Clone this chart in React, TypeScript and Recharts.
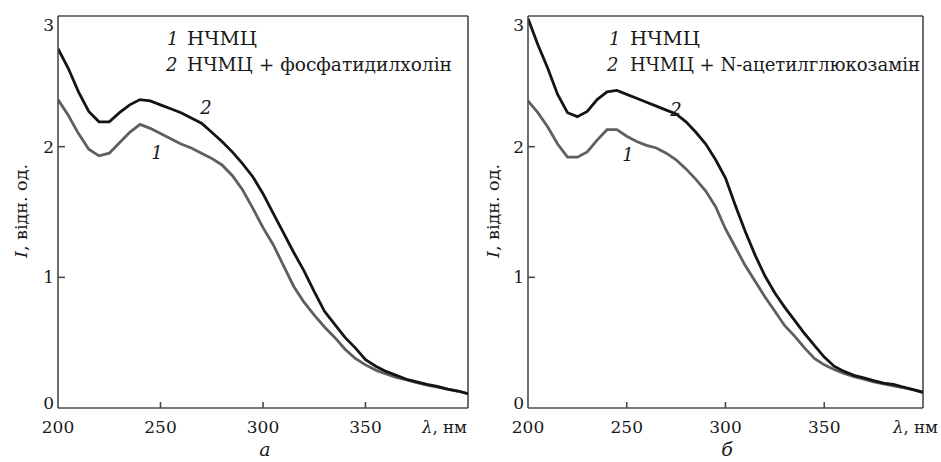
import React from 'react';
import { LineChart, Line, XAxis, YAxis, ReferenceLine } from 'recharts';

// wavelength grid, nm
const wavelengths = [
  200, 205, 210, 215, 220, 225, 230, 235, 240, 245, 250, 255, 260, 265, 270, 275, 280,
  285, 290, 295, 300, 305, 310, 315, 320, 325, 330, 335, 340, 345, 350, 355, 360, 365,
  370, 375, 380, 385, 390, 395, 400,
];

// panel a: curve 1 (НЧМЦ)
const panelA_curve1 = [
  2.36, 2.24, 2.1, 1.98, 1.93, 1.95, 2.03, 2.11, 2.17, 2.14, 2.1, 2.06, 2.02, 1.99, 1.95,
  1.91, 1.86, 1.78, 1.67, 1.53, 1.38, 1.25, 1.09, 0.93, 0.81, 0.71, 0.62, 0.54, 0.45,
  0.38, 0.33, 0.29, 0.26, 0.235, 0.215, 0.195, 0.175, 0.16, 0.145, 0.13, 0.11,
];
// panel a: curve 2 (НЧМЦ + фосфатидилхолін)
const panelA_curve2 = [
  2.75, 2.6, 2.42, 2.27, 2.19, 2.19, 2.26, 2.32, 2.36, 2.35, 2.32, 2.29, 2.26, 2.22, 2.18,
  2.11, 2.04, 1.96, 1.87, 1.77, 1.64, 1.49, 1.34, 1.19, 1.05, 0.89, 0.74, 0.64, 0.54,
  0.46, 0.37, 0.32, 0.28, 0.25, 0.22, 0.2, 0.18, 0.165, 0.145, 0.13, 0.11,
];
// panel б: curve 1 (НЧМЦ)
const panelB_curve1 = [
  2.35, 2.26, 2.15, 2.02, 1.92, 1.92, 1.96, 2.05, 2.13, 2.13, 2.08, 2.04, 2.01, 1.99, 1.95,
  1.9, 1.83, 1.75, 1.66, 1.54, 1.37, 1.23, 1.09, 0.97, 0.85, 0.74, 0.63, 0.55, 0.46, 0.38,
  0.33, 0.295, 0.265, 0.24, 0.22, 0.2, 0.185, 0.17, 0.155, 0.14, 0.12,
];
// panel б: curve 2 (НЧМЦ + N-ацетилглюкозамін)
const panelB_curve2 = [
  2.98, 2.78, 2.6, 2.4, 2.26, 2.23, 2.27, 2.36, 2.42, 2.43, 2.4, 2.37, 2.34, 2.31, 2.28,
  2.25, 2.19, 2.11, 2.02, 1.9, 1.76, 1.55, 1.35, 1.17, 1.01, 0.88, 0.77, 0.67, 0.57, 0.48,
  0.39, 0.32, 0.28, 0.25, 0.23, 0.21, 0.19, 0.18, 0.16, 0.14, 0.12,
];

const xTicks = [200, 250, 300, 350];
const yTicks = [0, 1, 2, 3];
const xDomain = [200, 400];
const yDomain = [0, 3];

const legendA = ['НЧМЦ', 'НЧМЦ + фосфатидилхолін'];
const legendB = ['НЧМЦ', 'НЧМЦ + N-ацетилглюкозамін'];
const yTitle = ', відн. од.';
const xUnit = ', нм';

const dataA = wavelengths.map((w, i) => ({ w, s1: panelA_curve1[i], s2: panelA_curve2[i] }));
const dataB = wavelengths.map((w, i) => ({ w, s1: panelB_curve1[i], s2: panelB_curve2[i] }));

const FONT = '"DejaVu Serif", serif';
const AXIS = '#4a4a4a';
const C1 = '#5f5f5f';
const C2 = '#141414';

const fs = (size: number, italic = false) => ({
  fontFamily: FONT,
  fontSize: size,
  fontStyle: italic ? 'italic' : 'normal',
  fill: '#1a1a1a',
});

const XTick = (props: any) => {
  const { x, y, payload } = props;
  return (
    <g>
      {payload.value !== 200 && (
        <line x1={x} x2={x} y1={y} y2={y - 6} stroke={AXIS} strokeWidth={1.6} />
      )}
      <text x={x} y={y + 19} dy="0.36em" textAnchor="middle" style={fs(17)}>
        {payload.value}
      </text>
    </g>
  );
};

const YTick = (props: any) => {
  const { x, y, payload } = props;
  const v = payload.value;
  const off = v === 3 ? 8.5 : v === 0 ? -5 : 0;
  return (
    <g>
      {v !== 0 && v !== 3 && (
        <line x1={x} x2={x + 7} y1={y} y2={y} stroke={AXIS} strokeWidth={1.6} />
      )}
      <text x={x - 4} y={y + off} dy="0.36em" textAnchor="end" style={fs(17)}>
        {v}
      </text>
    </g>
  );
};

function Panel({ data, rightMargin }: { data: any[]; rightMargin: number }) {
  return (
    <LineChart width={470} height={462} data={data} margin={{ top: 16, right: rightMargin, bottom: 24, left: 0 }}>
      <XAxis
        dataKey="w"
        type="number"
        domain={xDomain}
        ticks={xTicks}
        interval={0}
        tickSize={0}
        tickMargin={0}
        tickLine={false}
        tick={<XTick />}
        height={30}
        axisLine={{ stroke: AXIS, strokeWidth: 1.6 }}
        allowDataOverflow
      />
      <YAxis
        type="number"
        domain={yDomain}
        ticks={yTicks}
        interval={0}
        tickSize={0}
        tickMargin={0}
        tickLine={false}
        tick={<YTick />}
        width={58}
        axisLine={{ stroke: AXIS, strokeWidth: 1.6 }}
        allowDataOverflow
      />
      <ReferenceLine y={3} stroke={AXIS} strokeWidth={1.6} ifOverflow="visible" />
      <ReferenceLine x={400} stroke={AXIS} strokeWidth={1.6} ifOverflow="visible" />
      <Line type="linear" dataKey="s1" stroke={C1} strokeWidth={2.8} dot={false} isAnimationActive={false} />
      <Line type="linear" dataKey="s2" stroke={C2} strokeWidth={2.8} dot={false} isAnimationActive={false} />
    </LineChart>
  );
}

export default function App() {
  return (
    <div style={{ position: 'absolute', left: 0, top: 0, width: 941, height: 462, background: '#fff', overflow: 'hidden' }}>
      <div style={{ position: 'absolute', left: 0, top: 0 }}>
        <Panel data={dataA} rightMargin={2} />
      </div>
      <div style={{ position: 'absolute', left: 470, top: 0 }}>
        <Panel data={dataB} rightMargin={17} />
      </div>
      <svg width={941} height={462} style={{ position: 'absolute', left: 0, top: 0, pointerEvents: 'none' }}>
        {/* panel a legend */}
        <text x={167} y={39} dy="0.36em" style={fs(18, true)}>1</text>
        <text x={187} y={39} dy="0.36em" style={fs(18)} textLength={70} lengthAdjust="spacingAndGlyphs">{legendA[0]}</text>
        <text x={166} y={65} dy="0.36em" style={fs(18, true)}>2</text>
        <text x={187} y={65} dy="0.36em" style={fs(18)} textLength={265} lengthAdjust="spacingAndGlyphs">{legendA[1]}</text>
        {/* panel b legend */}
        <text x={609} y={39} dy="0.36em" style={fs(18, true)}>1</text>
        <text x={630} y={39} dy="0.36em" style={fs(18)} textLength={70} lengthAdjust="spacingAndGlyphs">{legendB[0]}</text>
        <text x={607} y={65} dy="0.36em" style={fs(18, true)}>2</text>
        <text x={630} y={65} dy="0.36em" style={fs(18)} textLength={290} lengthAdjust="spacingAndGlyphs">{legendB[1]}</text>
        {/* curve labels */}
        <text x={206} y={108} dy="0.36em" textAnchor="middle" style={fs(18, true)}>2</text>
        <text x={157} y={153} dy="0.36em" textAnchor="middle" style={fs(18, true)}>1</text>
        <text x={676} y={110} dy="0.36em" textAnchor="middle" style={fs(18, true)}>2</text>
        <text x={628} y={155} dy="0.36em" textAnchor="middle" style={fs(18, true)}>1</text>
        {/* y titles */}
        <text transform="translate(21,211) rotate(-90)" x={0} y={0} dy="0.36em" textAnchor="middle" style={fs(16)} textLength={94} lengthAdjust="spacingAndGlyphs">
          <tspan style={{ fontStyle: 'italic' }}>I</tspan>{yTitle}
        </text>
        <text transform="translate(493,211) rotate(-90)" x={0} y={0} dy="0.36em" textAnchor="middle" style={fs(16)} textLength={94} lengthAdjust="spacingAndGlyphs">
          <tspan style={{ fontStyle: 'italic' }}>I</tspan>{yTitle}
        </text>
        {/* x unit labels */}
        <text x={467} y={427} dy="0.36em" textAnchor="end" style={fs(16)} textLength={45} lengthAdjust="spacingAndGlyphs">
          <tspan style={{ fontStyle: 'italic' }}>λ</tspan>{xUnit}
        </text>
        <text x={938} y={427} dy="0.36em" textAnchor="end" style={fs(16)} textLength={45} lengthAdjust="spacingAndGlyphs">
          <tspan style={{ fontStyle: 'italic' }}>λ</tspan>{xUnit}
        </text>
        {/* panel letters */}
        <text x={265} y={456} textAnchor="middle" style={fs(19, true)}>а</text>
        <text x={727} y={456} textAnchor="middle" style={fs(19, true)}>б</text>
      </svg>
    </div>
  );
}
